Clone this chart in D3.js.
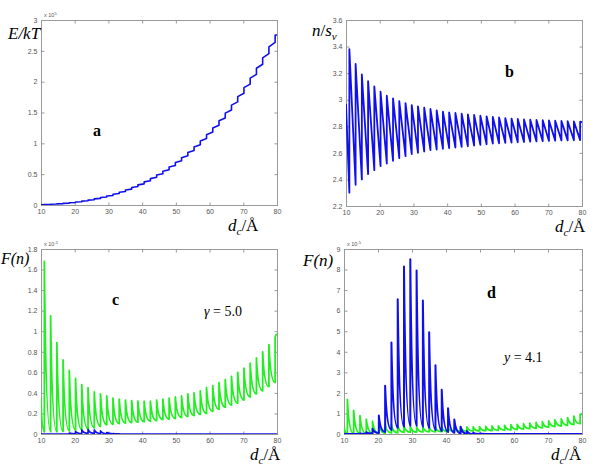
<!DOCTYPE html>
<html><head><meta charset="utf-8">
<script src="https://cdn.jsdelivr.net/npm/d3@7/dist/d3.min.js"></script>
<style>
html,body{margin:0;padding:0;background:#fff;}
svg{display:block;}
</style></head>
<body><svg id="chart" width="600" height="472"></svg>
<script>
// ---------- data ----------
const xTicks = [10, 20, 30, 40, 50, 60, 70, 80];
const dc = [11.0, 12.85, 14.7, 16.55, 18.4, 20.25, 22.1, 23.95, 25.8, 27.65, 29.5, 31.35, 33.2, 35.05, 36.9, 38.75, 40.6, 42.45, 44.3, 46.15, 48.0, 49.85, 51.7, 53.55, 55.4, 57.25, 59.1, 60.95, 62.8, 64.65, 66.5, 68.35, 70.2, 72.05, 73.9, 75.75, 77.6, 79.45];

// panel a : E/kT (x10^5)
const aStart = 0.004, aEnd = 2.76;
const aLow  = [0.006, 0.009, 0.015, 0.021, 0.029, 0.041, 0.053, 0.069, 0.085, 0.107, 0.130, 0.155, 0.187, 0.219, 0.257, 0.299, 0.343, 0.394, 0.449, 0.508, 0.573, 0.642, 0.717, 0.799, 0.885, 0.978, 1.077, 1.182, 1.294, 1.412, 1.540, 1.672, 1.813, 1.961, 2.118, 2.283, 2.455, 2.637];
const aHigh = [0.008, 0.013, 0.019, 0.027, 0.037, 0.049, 0.063, 0.079, 0.099, 0.121, 0.146, 0.175, 0.207, 0.243, 0.283, 0.327, 0.375, 0.428, 0.485, 0.548, 0.615, 0.688, 0.767, 0.851, 0.941, 1.038, 1.141, 1.250, 1.366, 1.490, 1.620, 1.758, 1.903, 2.057, 2.218, 2.387, 2.565, 2.751];
const aYTicks = [0, 0.5, 1, 1.5, 2, 2.5, 3];

// panel b : n/s_v
const bStart = 2.97, bEnd = 2.83;
const bLow  = [2.30, 2.36, 2.40, 2.44, 2.47, 2.50, 2.52, 2.54, 2.56, 2.575, 2.59, 2.60, 2.61, 2.62, 2.625, 2.63, 2.635, 2.64, 2.645, 2.65, 2.655, 2.66, 2.665, 2.67, 2.672, 2.675, 2.677, 2.68, 2.682, 2.684, 2.686, 2.688, 2.69, 2.692, 2.693, 2.694, 2.695, 2.696];
const bHigh = [3.38, 3.27, 3.19, 3.14, 3.10, 3.06, 3.03, 3.01, 2.99, 2.975, 2.96, 2.95, 2.94, 2.93, 2.92, 2.91, 2.905, 2.90, 2.895, 2.89, 2.885, 2.88, 2.875, 2.87, 2.866, 2.862, 2.858, 2.855, 2.852, 2.85, 2.848, 2.846, 2.844, 2.842, 2.84, 2.838, 2.836, 2.835];
const bYTicks = [2.2, 2.4, 2.6, 2.8, 3, 3.2, 3.4, 3.6];

// F(n) green (same in c and d, x10^-5)
const gStart = 0.35, gEnd = 0.97;
const gLow  = [0.02, 0.02, 0.02, 0.025, 0.03, 0.035, 0.04, 0.05, 0.06, 0.075, 0.09, 0.095, 0.10, 0.105, 0.11, 0.115, 0.12, 0.125, 0.13, 0.14, 0.145, 0.15, 0.16, 0.17, 0.18, 0.19, 0.20, 0.22, 0.24, 0.26, 0.28, 0.30, 0.33, 0.36, 0.39, 0.42, 0.46, 0.50];
const gHigh = [1.68, 1.15, 0.89, 0.72, 0.62, 0.54, 0.48, 0.45, 0.41, 0.39, 0.37, 0.35, 0.34, 0.33, 0.325, 0.32, 0.32, 0.32, 0.33, 0.34, 0.35, 0.36, 0.37, 0.39, 0.40, 0.42, 0.45, 0.47, 0.50, 0.53, 0.56, 0.60, 0.64, 0.69, 0.74, 0.80, 0.87, 0.94];
// F(n) blue, panel c
const cbLow  = [0, 0, 0, 0, 0, 0.002, 0.004, 0.006, 0.006, 0.005, 0.003, 0.002, 0.001, 0, 0, 0, 0, 0, 0, 0, 0, 0, 0, 0, 0, 0, 0, 0, 0, 0, 0, 0, 0, 0, 0, 0, 0, 0];
const cbHigh = [0, 0, 0, 0, 0.01, 0.025, 0.04, 0.045, 0.04, 0.03, 0.015, 0.005, 0, 0, 0, 0, 0, 0, 0, 0, 0, 0, 0, 0, 0, 0, 0, 0, 0, 0, 0, 0, 0, 0, 0, 0, 0, 0];
const cYTicks = [0, 0.2, 0.4, 0.6, 0.8, 1, 1.2, 1.4, 1.6, 1.8];
// F(n) blue, panel d
const dbLow  = [0, 0, 0, 0.005, 0.02, 0.05, 0.1, 0.2, 0.3, 0.35, 0.4, 0.4, 0.35, 0.3, 0.2, 0.15, 0.1, 0.06, 0.03, 0.01, 0, 0, 0, 0, 0, 0, 0, 0, 0, 0, 0, 0, 0, 0, 0, 0, 0, 0];
const dbHigh = [0, 0.005, 0.02, 0.08, 0.25, 0.9, 2.35, 4.45, 6.55, 8.15, 8.5, 7.95, 6.5, 4.95, 3.35, 2.15, 1.25, 0.7, 0.35, 0.15, 0.06, 0.02, 0, 0, 0, 0, 0, 0, 0, 0, 0, 0, 0, 0, 0, 0, 0, 0];
const dYTicks = [0, 1, 2, 3, 4, 5, 6, 7, 8, 9];

// ---------- drawing ----------
const svg = d3.select("#chart");
const BLUE = "#1010ee", GREEN = "#22ee22";
const SERIF = "'Liberation Serif','DejaVu Serif','Times New Roman',serif";
const SANS = "'Liberation Sans',Arial,sans-serif";

function panel(cfg) {
  const x = d3.scaleLinear().domain([10, 80]).range([cfg.l, cfg.r]);
  const y = d3.scaleLinear().domain(cfg.ydom).range([cfg.b, cfg.t]);
  const g = svg.append("g");
  const id = "clip" + cfg.name;
  svg.append("clipPath").attr("id", id).append("rect")
    .attr("x", cfg.l).attr("y", cfg.t).attr("width", cfg.r - cfg.l).attr("height", cfg.b - cfg.t);

  g.append("rect").attr("x", cfg.l + 0.5).attr("y", cfg.t + 0.5)
    .attr("width", cfg.r - cfg.l).attr("height", cfg.b - cfg.t)
    .attr("fill", "none").attr("stroke", "#9a9a9a").attr("stroke-width", 1);

  const axB = d3.axisBottom(x).tickValues(xTicks).tickSize(-3).tickPadding(4).tickFormat(d3.format("d"));
  const axT = d3.axisTop(x).tickValues(xTicks).tickSize(-3).tickFormat("");
  const axL = d3.axisLeft(y).tickValues(cfg.yticks).tickSize(-3).tickPadding(4).tickFormat(d => String(+d.toFixed(2)));
  const axR = d3.axisRight(y).tickValues(cfg.yticks).tickSize(-3).tickFormat("");
  const style = sel => {
    sel.select(".domain").remove();
    sel.selectAll("line").attr("stroke", "#9a9a9a");
    sel.selectAll("text").attr("fill", "#555").style("font-family", SANS).style("font-size", "7px");
  };
  g.append("g").attr("transform", `translate(0,${cfg.b + 0.5})`).call(axB).call(style);
  g.append("g").attr("transform", `translate(0,${cfg.t + 0.5})`).call(axT).call(style);
  g.append("g").attr("transform", `translate(${cfg.l + 0.5},0)`).call(axL).call(style);
  g.append("g").attr("transform", `translate(${cfg.r + 0.5},0)`).call(axR).call(style);

  if (cfg.exp) {
    const t = g.append("text").attr("x", cfg.l + 3).attr("y", cfg.t - 3)
      .attr("fill", "#555").style("font-family", SANS).style("font-size", "5.5px");
    t.append("tspan").text("x 10");
    t.append("tspan").attr("dy", -2.5).style("font-size", "4px").text(cfg.exp);
  }

  const plot = g.append("g").attr("clip-path", `url(#${id})`);
  cfg.series.forEach(s => {
    const p = d3.path();
    p.moveTo(x(10), y(s.start));
    const seg = (x0, y0, x1, y1) => {
      if (s.curved) {
        p.quadraticCurveTo(x(x0) + (x(x1) - x(x0)) * 0.25, y(y1), x(x1), y(y1));
      } else {
        p.lineTo(x(x1), y(y1));
      }
    };
    seg(10, s.start, dc[0], s.low[0]);
    for (let i = 0; i < dc.length; i++) {
      p.lineTo(x(dc[i]), y(s.high[i]));
      if (i < dc.length - 1) seg(dc[i], s.high[i], dc[i + 1], s.low[i + 1]);
      else seg(dc[i], s.high[i], 80, s.end);
    }
    plot.append("path").attr("d", p.toString()).attr("fill", "none")
      .attr("stroke", s.color).attr("stroke-width", s.w || 1.8).attr("stroke-linejoin", "round");
  });
  return g;
}

function xLabel(g, xx, yy) {
  const t = g.append("text").attr("x", xx).attr("y", yy)
    .style("font-family", SERIF).style("font-size", "17px").attr("fill", "#000");
  t.append("tspan").style("font-style", "italic").text("d");
  t.append("tspan").attr("dy", 4).style("font-size", "11px").style("font-style", "italic").text("c");
  t.append("tspan").attr("dy", -4).text("/Å");
}
function bold(g, xx, yy, s) {
  g.append("text").attr("x", xx).attr("y", yy).text(s)
    .style("font-family", SERIF).style("font-weight", "bold").style("font-size", "16px");
}

// panel a
const ga = panel({ name: "a", l: 41, r: 277, t: 20, b: 205, ydom: [0, 3], yticks: aYTicks, exp: "5",
  series: [{ start: aStart, end: aEnd, low: aLow, high: aHigh, color: BLUE, w: 1.6 }] });
ga.append("text").attr("x", 8).attr("y", 39).style("font-family", SERIF).style("font-style", "italic")
  .style("font-size", "17px").text("E/kT");
bold(ga, 93, 136, "a");
xLabel(ga, 228, 231);

// panel b
const gb = panel({ name: "b", l: 346, r: 582, t: 20, b: 206, ydom: [2.2, 3.6], yticks: bYTicks,
  series: [{ start: bStart, end: bEnd, low: bLow, high: bHigh, color: BLUE, w: 1.8 }] });
const tb = gb.append("text").attr("x", 312).attr("y", 36).style("font-family", SERIF).style("font-size", "17px");
tb.append("tspan").style("font-style", "italic").text("n");
tb.append("tspan").text("/");
tb.append("tspan").style("font-style", "italic").text("s");
tb.append("tspan").attr("dy", 4).style("font-size", "11px").style("font-style", "italic").text("v");
bold(gb, 505, 77, "b");
xLabel(gb, 555, 232);

// panel c
const gc = panel({ name: "c", l: 41, r: 277, t: 249, b: 434, ydom: [0, 1.8], yticks: cYTicks, exp: "-5",
  series: [
    { start: gStart, end: gEnd, low: gLow, high: gHigh, color: GREEN, curved: true, w: 1.8 },
    { start: 0, end: 0, low: cbLow, high: cbHigh, color: BLUE, curved: true, w: 1.6 }
  ] });
gc.append("text").attr("x", 1).attr("y", 264).style("font-family", SERIF).style("font-style", "italic")
  .style("font-size", "16px").text("F(n)");
bold(gc, 112, 305, "c");
const tc = gc.append("text").attr("x", 204).attr("y", 316).style("font-family", SERIF).style("font-size", "14px");
tc.append("tspan").style("font-style", "italic").text("γ");
tc.append("tspan").text(" = 5.0");
xLabel(gc, 250, 460);

// panel d
const gd = panel({ name: "d", l: 344, r: 582, t: 249, b: 434, ydom: [0, 9], yticks: dYTicks, exp: "-5",
  series: [
    { start: gStart, end: gEnd, low: gLow, high: gHigh, color: GREEN, curved: true, w: 1.8 },
    { start: 0, end: 0, low: dbLow, high: dbHigh, color: BLUE, curved: true, w: 2 }
  ] });
gd.append("text").attr("x", 303).attr("y", 266).style("font-family", SERIF).style("font-style", "italic")
  .style("font-size", "17px").text("F(n)");
bold(gd, 487, 298, "d");
const td = gd.append("text").attr("x", 504).attr("y", 362).style("font-family", SERIF).style("font-size", "14px");
td.append("tspan").style("font-style", "italic").text("y");
td.append("tspan").text(" = 4.1");
xLabel(gd, 551, 460);
</script>
</body></html>
